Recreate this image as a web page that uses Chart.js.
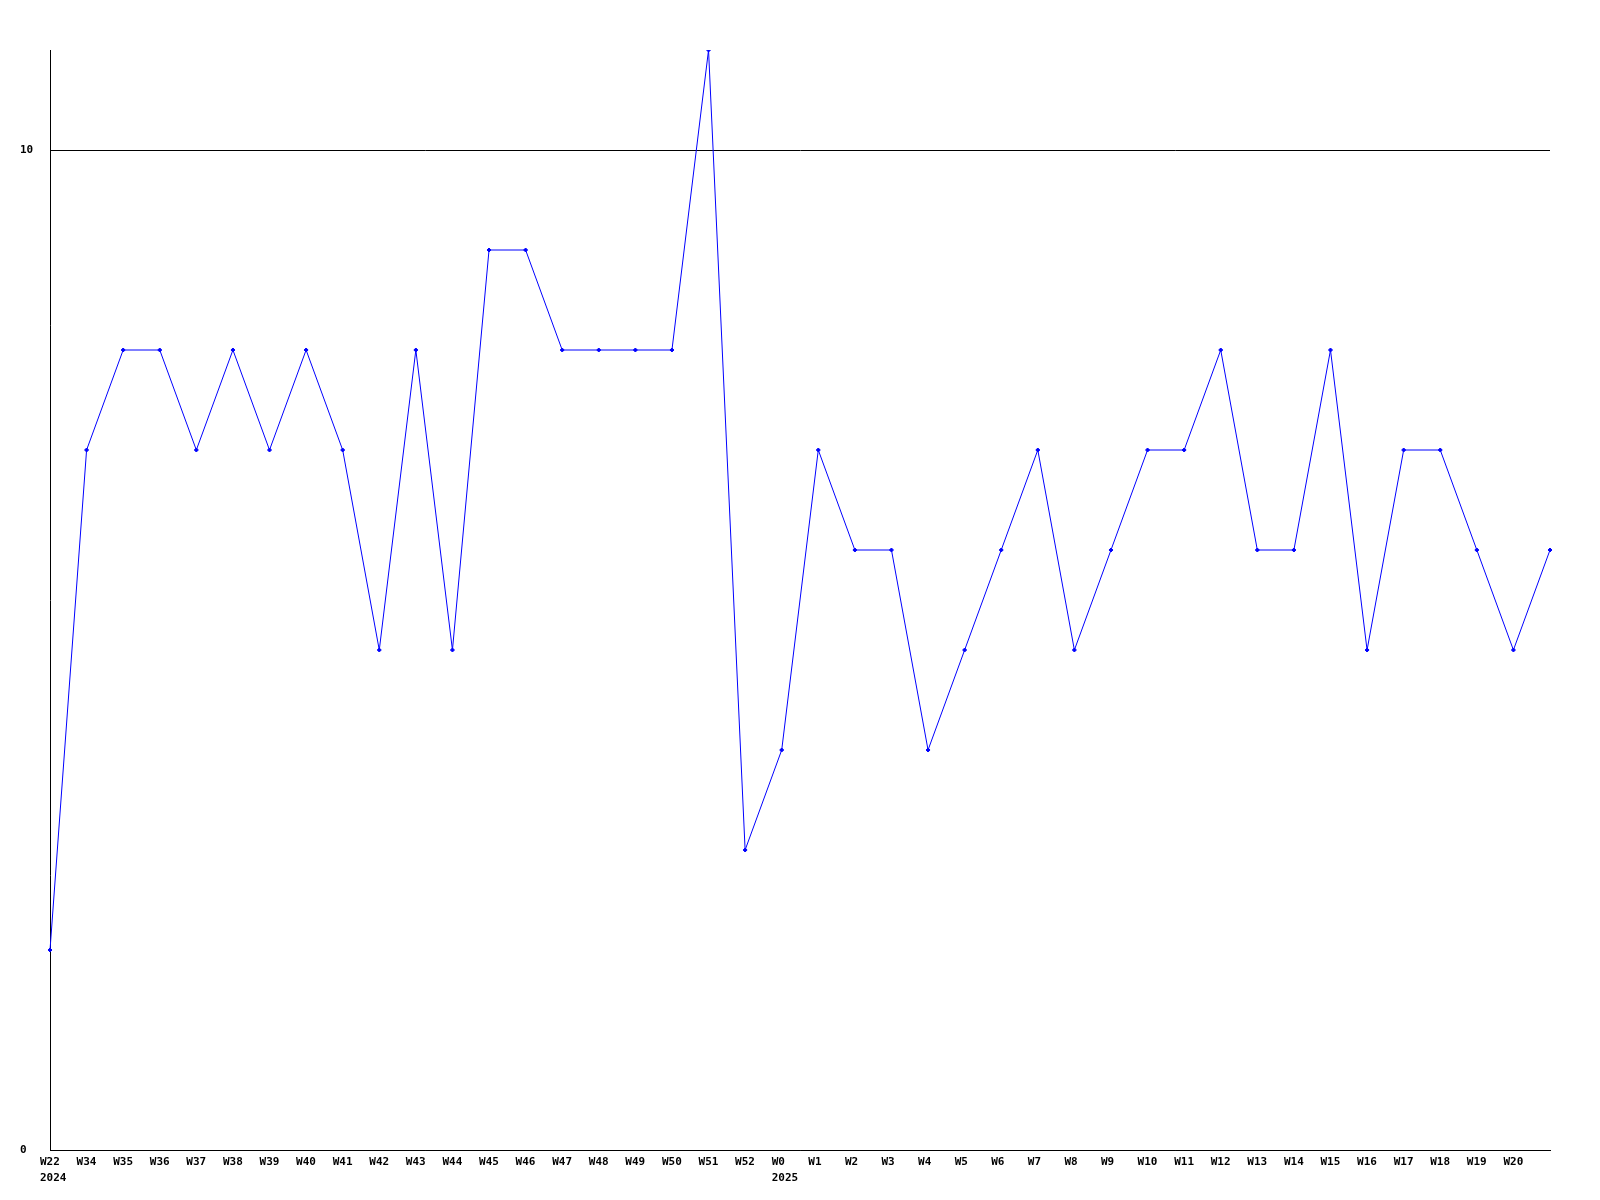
<!DOCTYPE html>
<html>
<head>
<meta charset="utf-8">
<script src="https://cdn.jsdelivr.net/npm/chart.js@4"></script>
<style>html,body{margin:0;padding:0;background:#fff;}canvas{display:block;}</style>
</head>
<body>
<canvas id="c" width="1600" height="1200"></canvas>
<script>
const weeks = ["W22","W34","W35","W36","W37","W38","W39","W40","W41","W42","W43","W44","W45","W46","W47","W48","W49","W50","W51","W52","W0","W1","W2","W3","W4","W5","W6","W7","W8","W9","W10","W11","W12","W13","W14","W15","W16","W17","W18","W19","W20",""];
const years = ["2024","","","","","","","","","","","","","","","","","","","","2025","","","","","","","","","","","","","","","","","","","","",""];
const values = [2,7,8,8,7,8,7,8,7,5,8,5,9,9,8,8,8,8,11,3,4,7,6,6,4,5,6,7,5,6,7,7,8,6,6,8,5,7,7,6,5,6];
const yTicks = [0,10];

const labels = weeks.map((w,i)=> years[i] ? [w, years[i]] : w);
const font = {family:"'DejaVu Sans Mono', monospace", size:11, weight:'bold', lineHeight:'16px'};

new Chart(document.getElementById('c'), {
  type:'line',
  data:{labels, datasets:[{data:values, borderColor:'#0000ff', backgroundColor:'#0000ff', borderWidth:1, tension:0,
    pointStyle:'rectRot', pointRadius:2, pointBorderWidth:1, fill:false}]},
  options:{
    responsive:false, animation:false, devicePixelRatio:1,
    layout:{padding:{left:20, top:50, right:50, bottom:0}},
    plugins:{legend:{display:false}, tooltip:{enabled:false}},
    scales:{
      x:{offset:false, grid:{display:false, drawTicks:false}, border:{color:'#000', width:1},
        ticks:{autoSkip:false, maxRotation:0, minRotation:0, padding:4, color:'#000', font, align:'start', labelOffset:-10},
        afterFit:(s)=>{s.height=50;}},
      y:{min:0, max:11, grid:{color:'#000', lineWidth:1, drawTicks:false}, border:{color:'#000', width:1},
        ticks:{stepSize:10, color:'#000', font:{...font, lineHeight:1.2}, crossAlign:'far', padding:0},
        afterBuildTicks:(s)=>{s.ticks = yTicks.map(v=>({value:v}));},
        afterFit:(s)=>{s.width=30;}}
    }
  }
});
</script>
</body>
</html>
